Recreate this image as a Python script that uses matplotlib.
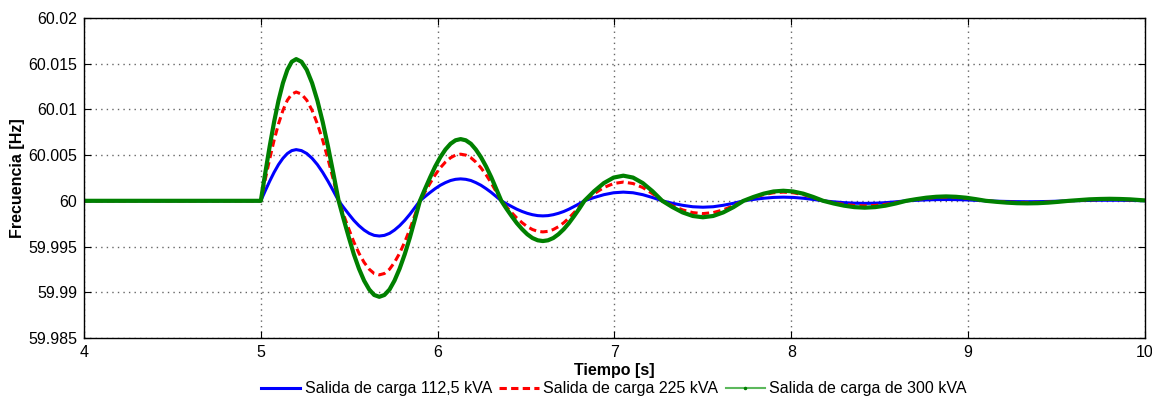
import numpy as np
import matplotlib
matplotlib.use('Agg')
import matplotlib.pyplot as plt
from matplotlib.lines import Line2D

plt.rcParams['font.family'] = ['Liberation Sans', 'DejaVu Sans']

f0 = 60.0

# time samples (s), shared by the three traces
t = [4.0, 4.5, 5.0,
     5.025, 5.050, 5.075, 5.100, 5.125, 5.150, 5.175, 5.200,
     5.230, 5.260, 5.290, 5.320, 5.350, 5.380, 5.410,
     5.440, 5.469, 5.498, 5.526, 5.555, 5.584, 5.613, 5.641,
     5.670, 5.699, 5.728, 5.756, 5.785, 5.814, 5.843, 5.871,
     5.900, 5.929, 5.958, 5.986, 6.015, 6.044, 6.073, 6.101,
     6.130, 6.159, 6.188, 6.216, 6.245, 6.274, 6.303, 6.331,
     6.360, 6.389, 6.419, 6.448, 6.478, 6.507, 6.536, 6.566,
     6.595, 6.624, 6.654, 6.683, 6.713, 6.742, 6.771, 6.801,
     6.830, 6.885, 6.940, 6.995, 7.050, 7.105, 7.160, 7.215,
     7.270, 7.328, 7.385, 7.443, 7.500, 7.558, 7.615, 7.673,
     7.730, 7.786, 7.843, 7.899, 7.955, 8.011, 8.068, 8.124,
     8.180, 8.239, 8.298, 8.356, 8.415, 8.474, 8.533, 8.591,
     8.650, 8.706, 8.763, 8.819, 8.875, 8.931, 8.988, 9.044,
     9.100, 9.159, 9.218, 9.276, 9.335, 9.394, 9.453, 9.511,
     9.570, 9.628, 9.685, 9.743, 9.800, 9.858, 9.915, 9.973, 10.0]

# frequency deviation from 60 Hz, in mHz
dev_112 = [0, 0, 0,
           1.09, 2.14, 3.11, 3.96, 4.65, 5.17, 5.49, 5.6,
           5.49, 5.17, 4.65, 3.96, 3.11, 2.14, 1.09,
           0, -0.75, -1.47, -2.14, -2.72, -3.20, -3.56, -3.78,
           -3.85, -3.78, -3.56, -3.20, -2.72, -2.14, -1.47, -0.75,
           0, 0.47, 0.92, 1.33, 1.70, 1.99, 2.22, 2.35,
           2.4, 2.35, 2.22, 1.99, 1.70, 1.33, 0.92, 0.47,
           0, -0.32, -0.63, -0.92, -1.17, -1.37, -1.52, -1.62,
           -1.65, -1.62, -1.52, -1.37, -1.17, -0.92, -0.63, -0.32,
           0, 0.36, 0.67, 0.88, 0.95, 0.88, 0.67, 0.36,
           0, -0.27, -0.49, -0.65, -0.7, -0.65, -0.49, -0.27,
           0, 0.15, 0.28, 0.37, 0.4, 0.37, 0.28, 0.15,
           0, -0.11, -0.20, -0.26, -0.28, -0.26, -0.20, -0.11,
           0, 0.05, 0.10, 0.13, 0.14, 0.13, 0.10, 0.05,
           0, -0.04, -0.07, -0.09, -0.1, -0.09, -0.07, -0.04,
           0, 0.02, 0.04, 0.06, 0.06, 0.06, 0.04, 0.02, 0.01]

dev_225 = [0, 0, 0,
           2.32, 4.56, 6.62, 8.41, 9.89, 11.00, 11.67, 11.9,
           11.67, 11.00, 9.89, 8.41, 6.62, 4.56, 2.32,
           0, -1.58, -3.10, -4.50, -5.73, -6.73, -7.48, -7.95,
           -8.1, -7.95, -7.48, -6.73, -5.73, -4.50, -3.10, -1.58,
           0, 0.99, 1.95, 2.84, 3.61, 4.24, 4.71, 5.00,
           5.1, 5.00, 4.71, 4.24, 3.61, 2.84, 1.95, 0.99,
           0, -0.66, -1.30, -1.89, -2.40, -2.83, -3.14, -3.34,
           -3.4, -3.34, -3.14, -2.83, -2.40, -1.89, -1.30, -0.66,
           0, 0.78, 1.45, 1.89, 2.05, 1.89, 1.45, 0.78,
           0, -0.54, -0.99, -1.29, -1.4, -1.29, -0.99, -0.54,
           0, 0.36, 0.67, 0.88, 0.95, 0.88, 0.67, 0.36,
           0, -0.21, -0.39, -0.51, -0.55, -0.51, -0.39, -0.21,
           0, 0.15, 0.28, 0.37, 0.4, 0.37, 0.28, 0.15,
           0, -0.08, -0.14, -0.18, -0.2, -0.18, -0.14, -0.08,
           0, 0.06, 0.11, 0.14, 0.15, 0.14, 0.11, 0.06, 0.03]

dev_300 = [0, 0, 0,
           3.02, 5.94, 8.62, 10.96, 12.88, 14.32, 15.21, 15.5,
           15.21, 14.32, 12.88, 10.96, 8.62, 5.94, 3.02,
           0, -2.05, -4.02, -5.84, -7.42, -8.73, -9.70, -10.30,
           -10.5, -10.30, -9.70, -8.73, -7.42, -5.84, -4.02, -2.05,
           0, 1.32, 2.59, 3.75, 4.77, 5.61, 6.24, 6.62,
           6.75, 6.62, 6.24, 5.61, 4.77, 3.75, 2.59, 1.32,
           0, -0.86, -1.69, -2.45, -3.11, -3.66, -4.07, -4.32,
           -4.4, -4.32, -4.07, -3.66, -3.11, -2.45, -1.69, -0.86,
           0, 1.05, 1.94, 2.54, 2.75, 2.54, 1.94, 1.05,
           0, -0.69, -1.27, -1.66, -1.8, -1.66, -1.27, -0.69,
           0, 0.42, 0.78, 1.02, 1.1, 1.02, 0.78, 0.42,
           0, -0.29, -0.53, -0.69, -0.75, -0.69, -0.53, -0.29,
           0, 0.18, 0.34, 0.44, 0.48, 0.44, 0.34, 0.18,
           0, -0.11, -0.20, -0.26, -0.28, -0.26, -0.20, -0.11,
           0, 0.08, 0.16, 0.20, 0.22, 0.20, 0.16, 0.08, 0.04]

labels = ['Salida de carga 112,5 kVA', 'Salida de carga 225 kVA',
          'Salida de carga de 300 kVA']

yticks = [59.985, 59.99, 59.995, 60, 60.005, 60.01, 60.015, 60.02]
ytick_labels = ['59.985', '59.99', '59.995', '60', '60.005', '60.01', '60.015', '60.02']

t = np.array(t)
f_112 = f0 + np.array(dev_112) / 1000
f_225 = f0 + np.array(dev_225) / 1000
f_300 = f0 + np.array(dev_300) / 1000

dash = (0, (2.4, 1.4))

fig = plt.figure(figsize=(11.52, 3.99), dpi=100)
ax = fig.add_axes([0.0729, 0.153, 0.9210, 0.802])

ax.plot(t, f_112, color='#0000ff', lw=2.2)
ax.plot(t, f_225, color='#ff0000', lw=2.2, ls=dash)
ax.plot(t, f_300, color='#008000', lw=3.0, solid_joinstyle='round')

ax.set_xlim(4, 10)
ax.set_ylim(59.985, 60.02)
ax.set_yticks(yticks)
ax.set_yticklabels(ytick_labels)
ax.set_xticks([4, 5, 6, 7, 8, 9, 10])
ax.tick_params(direction='in', top=True, right=True, length=5, labelsize=11.5, pad=5)
ax.grid(True, ls=(0, (1, 3)), color='0.4', lw=1.0)
for s in ax.spines.values():
    s.set_linewidth(1.0)

ax.set_xlabel('Tiempo [s]', fontsize=11.5, fontweight='bold', labelpad=2)
ax.set_ylabel('Frecuencia [Hz]', fontsize=11.5, fontweight='bold', labelpad=2)

handles = [Line2D([], [], color='#0000ff', lw=2.2),
           Line2D([], [], color='#ff0000', lw=2.2, ls=dash),
           Line2D([], [], color='#5cb85c', lw=1.5, marker='.', markersize=3,
                  markerfacecolor='#008000', markeredgecolor='#008000', markevery=[1])]
fig.legend(handles, labels, loc='center', bbox_to_anchor=(614 / 1152, 1 - 389 / 399),
           ncol=3, frameon=False, fontsize=11.5, handlelength=2.45, handletextpad=0.3,
           columnspacing=0.45)

fig.savefig('out.png', dpi=100)
